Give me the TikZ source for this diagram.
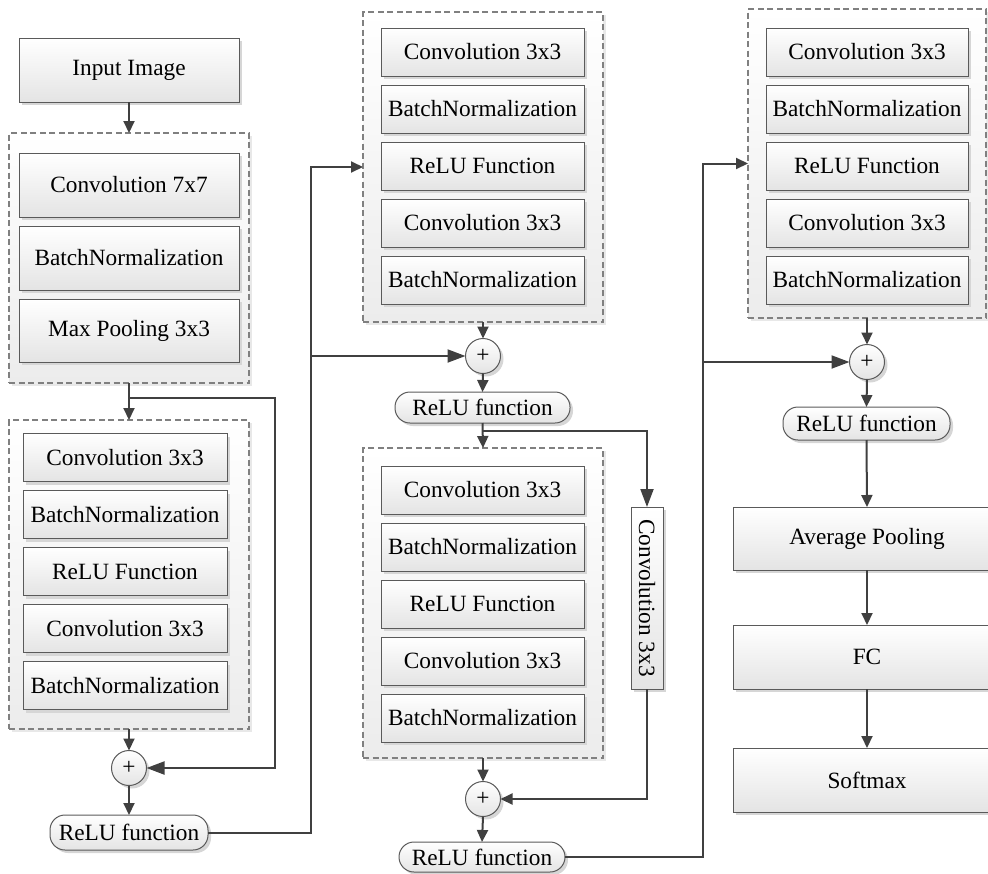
\documentclass[tikz,border=0pt]{standalone}
\usepackage{fontspec}
\setmainfont{Liberation Serif}
\newfontfamily\tnr{Liberation Serif}
\usetikzlibrary{arrows.meta,shadows}
\definecolor{bordc}{HTML}{5A5A5A}
\definecolor{dashc}{HTML}{808080}
\definecolor{linec}{HTML}{404040}
\definecolor{fillb}{HTML}{E4E4E4}
\definecolor{grpb}{HTML}{ECECEC}
\definecolor{shadc}{HTML}{D6D6D6}
\definecolor{shadg}{HTML}{E8E8E8}
\begin{document}
\begin{tikzpicture}[x=1pt,y=-1pt,
  every node/.style={font=\tnr\fontsize{23.3}{28}\selectfont, text=black, inner sep=0pt, outer sep=0pt},
  blk/.style={draw=bordc, line width=1pt, top color=white, bottom color=fillb,
    drop shadow={shadow xshift=3pt, shadow yshift=-3pt, fill=shadc, opacity=1}},
  grp/.style={draw=dashc, line width=1.1pt, dash pattern=on 6pt off 3.5pt, top color=white, bottom color=grpb,
    drop shadow={shadow xshift=3pt, shadow yshift=-3pt, fill=shadg, opacity=1}},
  sumc/.style={blk, circle, minimum size=35pt},
  relu/.style={blk, rounded corners=15pt},
  arr/.style={draw=linec, line width=2pt, -{Triangle[length=12pt,width=11pt]}},
  arrbig/.style={draw=linec, line width=2pt, -{Triangle[length=18pt,width=13pt]}},
  ln/.style={draw=linec, line width=2pt}
]
\useasboundingbox (0,0) rectangle (988,873);
\clip (0,0) rectangle (988,873);

% ---------- column 1 ----------
\node[blk, minimum width=220, minimum height=64] (in) at (129,70) {Input Image};
\node[grp, minimum width=240, minimum height=250] (d1) at (129,258) {};
\node[blk, minimum width=220, minimum height=64] (c7) at (129,185) {Convolution 7x7};
\node[blk, minimum width=220, minimum height=64] (bn0) at (129,258) {BatchNormalization};
\node[blk, minimum width=220, minimum height=63] (mp) at (129,330.5) {Max Pooling 3x3};

\node[grp, minimum width=240, minimum height=309] (d2) at (129,574.5) {};
\node[blk, minimum width=204, minimum height=48] (a1) at (125,457.5) {Convolution 3x3};
\node[blk, minimum width=204, minimum height=48] (a2) at (125,514.5) {BatchNormalization};
\node[blk, minimum width=204, minimum height=48] (a3) at (125,571.5) {ReLU Function};
\node[blk, minimum width=204, minimum height=48] (a4) at (125,628.5) {Convolution 3x3};
\node[blk, minimum width=204, minimum height=48] (a5) at (125,685.5) {BatchNormalization};

\node[sumc] (p1) at (129,768) {+};
\node[relu, minimum width=158, minimum height=35] (r1) at (129,832.5) {ReLU function};

% ---------- column 2 ----------
\node[grp, minimum width=240, minimum height=310] (d3) at (483,167) {};
\node[blk, minimum width=203, minimum height=48] (b1) at (482.5,52) {Convolution 3x3};
\node[blk, minimum width=203, minimum height=48] (b2) at (482.5,109) {BatchNormalization};
\node[blk, minimum width=203, minimum height=48] (b3) at (482.5,166) {ReLU Function};
\node[blk, minimum width=203, minimum height=48] (b4) at (482.5,223) {Convolution 3x3};
\node[blk, minimum width=203, minimum height=48] (b5) at (482.5,280) {BatchNormalization};

\node[sumc] (p2) at (483,356) {+};
\node[relu, minimum width=175, minimum height=31] (r2) at (482.5,407.5) {ReLU function};

\node[grp, minimum width=240, minimum height=310] (d4) at (483,603) {};
\node[blk, minimum width=203, minimum height=48] (e1) at (482.5,490) {Convolution 3x3};
\node[blk, minimum width=203, minimum height=48] (e2) at (482.5,547) {BatchNormalization};
\node[blk, minimum width=203, minimum height=48] (e3) at (482.5,604) {ReLU Function};
\node[blk, minimum width=203, minimum height=48] (e4) at (482.5,661) {Convolution 3x3};
\node[blk, minimum width=203, minimum height=48] (e5) at (482.5,718) {BatchNormalization};

\node[blk, minimum width=32, minimum height=182] (cv) at (647,598) {};
\node[rotate=-90] (cvt) at (cv.center) {Convolution 3x3};

\node[sumc] (p3) at (483,799) {+};
\node[relu, minimum width=166, minimum height=30] (r3) at (482,857) {ReLU function};

% ---------- column 3 ----------
\node[grp, minimum width=238, minimum height=309] (d5) at (867,163.5) {};
\node[blk, minimum width=202, minimum height=48] (f1) at (867,52) {Convolution 3x3};
\node[blk, minimum width=202, minimum height=48] (f2) at (867,109) {BatchNormalization};
\node[blk, minimum width=202, minimum height=48] (f3) at (867,166) {ReLU Function};
\node[blk, minimum width=202, minimum height=48] (f4) at (867,223) {Convolution 3x3};
\node[blk, minimum width=202, minimum height=48] (f5) at (867,280) {BatchNormalization};

\node[sumc] (p4) at (867,362) {+};
\node[relu, minimum width=167, minimum height=33] (r4) at (866.5,423.5) {ReLU function};

\node[blk, minimum width=268, minimum height=63] (avg) at (867,538.5) {Average Pooling};
\node[blk, minimum width=268, minimum height=64] (fc) at (867,657) {FC};
\node[blk, minimum width=268, minimum height=64] (sm) at (867,780) {Softmax};

% ---------- connectors ----------
\coordinate (s1) at (129,398);
\coordinate (k1) at (275,398);
\coordinate (j1) at (311,356);
\coordinate (s2) at (483,431);
\coordinate (j2) at (703,362);

\draw[arr] (in.south) -- (d1.north);
\draw[arr] (d1.south) -- (d2.north);
\draw[arrbig] (s1) -- (k1) |- (p1.east);
\draw[arr] (d2.south) -- (p1.north);
\draw[arr] (p1.south) -- (r1.north);

\draw[arr] (r1.east) -| (j1) |- (d3.west);
\draw[arrbig] (j1) -- (p2.west);
\draw[arr] (d3.south) -- (p2.north);
\draw[arr] (p2.south) -- (r2.north);
\draw[arr] (r2.south) -- (d4.north);
\draw[arrbig] (s2) -| (cv.north);
\draw[arr] (cv.south) |- (p3.east);
\draw[arr] (d4.south) -- (p3.north);
\draw[arr] (p3.south) -- (r3.north);

\draw[arr] (r3.east) -| (j2) |- (d5.west);
\draw[arrbig] (j2) -- (p4.west);
\draw[arr] (d5.south) -- (p4.north);
\draw[arr] (p4.south) -- (r4.north);
\draw[arr] (r4.south) -- (avg.north);
\draw[arr] (avg.south) -- (fc.north);
\draw[arr] (fc.south) -- (sm.north);
\end{tikzpicture}
\end{document}
